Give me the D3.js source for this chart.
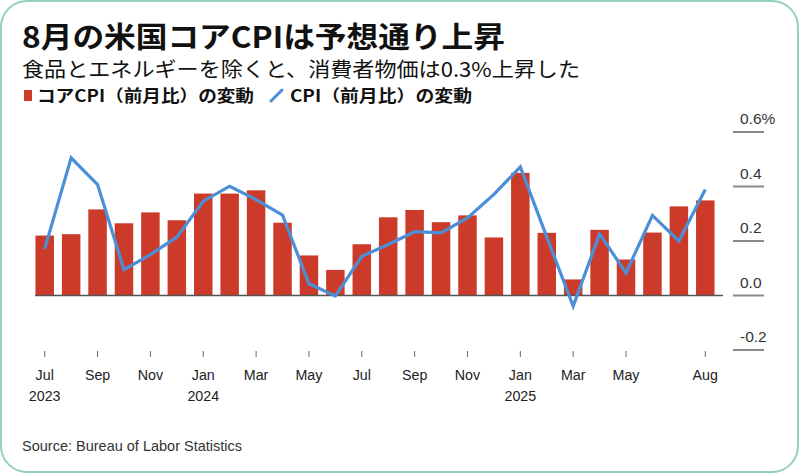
<!DOCTYPE html>
<html><head><meta charset="utf-8">
<script src="https://cdn.jsdelivr.net/npm/d3@7"></script>
<style>html,body{margin:0;padding:0;background:#fff;}svg{display:block;}</style>
</head><body>
<svg id="c" width="800" height="476"></svg>
<script>
const months = ["2023-07","2023-08","2023-09","2023-10","2023-11","2023-12","2024-01","2024-02","2024-03","2024-04","2024-05","2024-06","2024-07","2024-08","2024-09","2024-10","2024-11","2024-12","2025-01","2025-02","2025-03","2025-04","2025-05","2025-06","2025-07","2025-08"];
const coreCPI = [0.22,0.225,0.316,0.265,0.305,0.276,0.374,0.374,0.386,0.267,0.147,0.094,0.188,0.287,0.314,0.269,0.294,0.213,0.450,0.230,0.059,0.241,0.132,0.231,0.327,0.349];
const headlineCPI = [0.171,0.505,0.407,0.095,0.150,0.214,0.346,0.401,0.352,0.295,0.043,-0.002,0.144,0.187,0.234,0.230,0.285,0.371,0.472,0.215,-0.039,0.226,0.083,0.294,0.200,0.389];
const yTicks = [-0.2,0,0.2,0.4,0.6];
const yTickLabels = ["-0.2","0.0","0.2","0.4","0.6%"];
const xTickMonths = ["2023-07","2023-09","2023-11","2024-01","2024-03","2024-05","2024-07","2024-09","2024-11","2025-01","2025-03","2025-05","2025-08"];
const xTickLabels = ["Jul","Sep","Nov","Jan","Mar","May","Jul","Sep","Nov","Jan","Mar","May","Aug"];
const xYearLabels = {"2023-07":"2023","2024-01":"2024","2025-01":"2025"};

const title = "8月の米国コアCPIは予想通り上昇";
const subtitle = "食品とエネルギーを除くと、消費者物価は0.3%上昇した";
const legendBar = "コアCPI（前月比）の変動";
const legendLine = "CPI（前月比）の変動";
const source = "Source: Bureau of Labor Statistics";

const svg = d3.select("#c");
const cjk = "'Noto Sans CJK JP','Noto Sans',sans-serif";
const lat = "'Liberation Sans',Arial,sans-serif";
const red = "#cc3b2a", blue = "#4a8fd8";

svg.append("rect").attr("x",1).attr("y",1).attr("width",797).attr("height",471)
  .attr("rx",26).attr("fill","#fff").attr("stroke","#94d1bd").attr("stroke-width",2);

svg.append("text").attr("x",22).attr("y",48).attr("font-family",cjk).attr("font-weight",700)
  .attr("font-size",29).attr("fill","#111")
  .attr("textLength",483).attr("lengthAdjust","spacingAndGlyphs").text(title);
svg.append("text").attr("x",22).attr("y",77).attr("font-family",cjk)
  .attr("font-size",20.5).attr("fill","#111")
  .attr("textLength",558).attr("lengthAdjust","spacingAndGlyphs").text(subtitle);

const lg = svg.append("g");
lg.append("rect").attr("x",24).attr("y",90).attr("width",8).attr("height",11).attr("fill",red);
lg.append("text").attr("x",37).attr("y",102).attr("font-family",cjk).attr("font-weight",700)
  .attr("font-size",16.5).attr("fill","#111")
  .attr("textLength",217).attr("lengthAdjust","spacingAndGlyphs").text(legendBar);
lg.append("line").attr("x1",271).attr("y1",101).attr("x2",282).attr("y2",90)
  .attr("stroke",blue).attr("stroke-width",3).attr("stroke-linecap","round");
lg.append("text").attr("x",290).attr("y",102).attr("font-family",cjk).attr("font-weight",700)
  .attr("font-size",16.5).attr("fill","#111")
  .attr("textLength",182).attr("lengthAdjust","spacingAndGlyphs").text(legendLine);

const x = d3.scaleBand().domain(months).range([31.5, 718.5]).paddingInner(0.3).paddingOuter(0.15);
const y = d3.scaleLinear().domain([-0.2,0.6]).range([350,132]);
const cx = m => x(m) + x.bandwidth()/2;

// right axis
const ya = svg.append("g");
yTicks.forEach((t,i)=>{
  ya.append("line").attr("x1",733).attr("x2",764).attr("y1",y(t)).attr("y2",y(t))
    .attr("stroke","#8a8a8a").attr("stroke-width",2);
  ya.append("text").attr("x",740).attr("y",y(t)-8).attr("font-family",lat).attr("font-size",15.5)
    .attr("fill","#333").text(yTickLabels[i]);
});

svg.append("g").selectAll("rect").data(months).join("rect")
  .attr("x",d=>x(d)).attr("width",x.bandwidth())
  .attr("y",(d,i)=>y(Math.max(0,coreCPI[i])))
  .attr("height",(d,i)=>Math.abs(y(coreCPI[i])-y(0)))
  .attr("fill",red);

svg.append("line").attr("x1",35).attr("x2",723).attr("y1",y(0)).attr("y2",y(0))
  .attr("stroke","#555").attr("stroke-width",1.5);

const line = d3.line().x((d,i)=>cx(months[i])).y(d=>y(d));
svg.append("path").datum(headlineCPI).attr("d",line).attr("fill","none")
  .attr("stroke",blue).attr("stroke-width",3.2).attr("stroke-linejoin","miter");

const xa = svg.append("g");
xTickMonths.forEach((m,i)=>{
  xa.append("line").attr("x1",cx(m)).attr("x2",cx(m)).attr("y1",351).attr("y2",357)
    .attr("stroke","#666").attr("stroke-width",1);
  xa.append("text").attr("x",cx(m)).attr("y",380).attr("text-anchor","middle")
    .attr("font-family",lat).attr("font-size",15.5).attr("fill","#222")
    .attr("transform",`translate(${cx(m)},0) scale(0.92,1) translate(${-cx(m)},0)`).text(xTickLabels[i]);
  if(xYearLabels[m]) xa.append("text").attr("x",cx(m)).attr("y",401).attr("text-anchor","middle")
    .attr("font-family",lat).attr("font-size",15.5).attr("fill","#222")
    .attr("transform",`translate(${cx(m)},0) scale(0.92,1) translate(${-cx(m)},0)`).text(xYearLabels[m]);
});

svg.append("text").attr("x",22).attr("y",451).attr("font-family",lat).attr("font-size",14.5)
  .attr("fill","#333").text(source);
</script>
</body></html>
